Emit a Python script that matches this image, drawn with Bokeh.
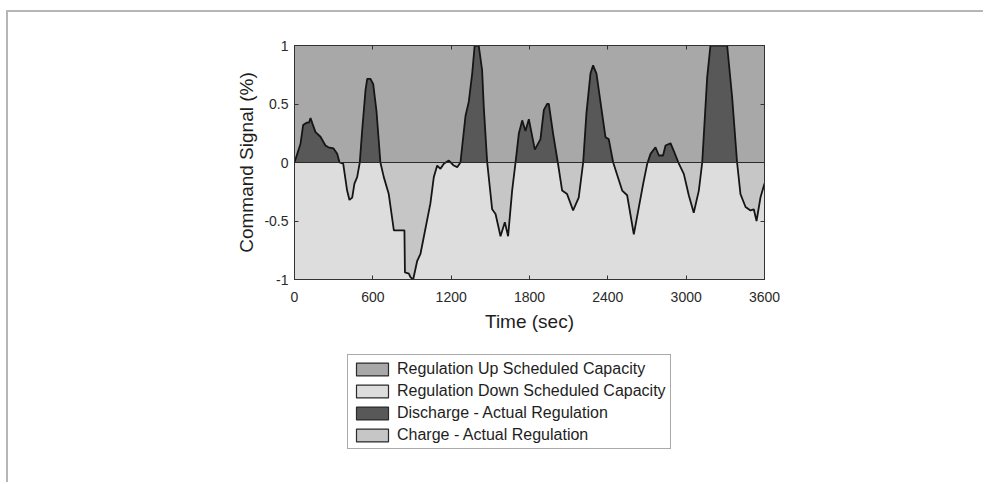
import numpy as np
from bokeh.plotting import figure
from bokeh.layouts import column
from bokeh.models import (ColumnDataSource, FixedTicker, Legend, LegendItem, Range1d, Span,
                          LinearAxis)
from bokeh.embed import file_html
from bokeh.resources import INLINE

# ---- data ----
time_s = [0, 46, 66, 92, 110, 123, 138, 161, 199, 237, 260, 299, 327, 345, 373, 403, 421, 442,
          459, 480, 500, 518, 544, 557, 582, 603, 628, 658, 684, 722, 761, 842, 846, 876, 888,
          909, 940, 965, 1041, 1067, 1093, 1118, 1144, 1182, 1220, 1246, 1271, 1310, 1335,
          1361, 1380, 1411, 1437, 1450, 1476, 1514, 1540, 1578, 1611, 1636, 1667, 1693, 1718,
          1744, 1769, 1795, 1841, 1884, 1910, 1935, 1948, 1981, 2017, 2050, 2088, 2134, 2177,
          2211, 2236, 2267, 2287, 2313, 2356, 2382, 2407, 2441, 2484, 2510, 2548, 2599, 2638,
          2671, 2702, 2727, 2765, 2791, 2823, 2842, 2880, 2905, 2944, 2982, 3020, 3058, 3097,
          3123, 3161, 3186, 3314, 3352, 3390, 3416, 3455, 3493, 3518, 3539, 3569, 3600]
signal = [0.0, 0.16, 0.32, 0.34, 0.34, 0.38, 0.33, 0.26, 0.22, 0.145, 0.13, 0.12, 0.074, 0.0,
          -0.01, -0.24, -0.32, -0.30, -0.18, -0.125, 0.0, 0.27, 0.62, 0.715, 0.715, 0.67, 0.44,
          0.0, -0.125, -0.27, -0.58, -0.58, -0.94, -0.95, -0.98, -1.0, -0.84, -0.78, -0.35,
          -0.125, -0.026, -0.054, -0.01, 0.017, -0.026, -0.04, 0.0, 0.40, 0.52, 0.76, 1.0, 1.0,
          0.79, 0.47, 0.0, -0.40, -0.44, -0.63, -0.51, -0.63, -0.24, 0.0, 0.245, 0.36, 0.27,
          0.37, 0.11, 0.20, 0.45, 0.50, 0.50, 0.245, 0.0, -0.24, -0.27, -0.41, -0.30, 0.0, 0.42,
          0.76, 0.83, 0.76, 0.42, 0.216, 0.20, 0.0, -0.15, -0.24, -0.28, -0.615, -0.38, -0.18,
          -0.01, 0.074, 0.13, 0.06, 0.06, 0.145, 0.165, 0.10, -0.01, -0.097, -0.28, -0.43,
          -0.24, 0.0, 0.73, 1.0, 1.0, 0.56, 0.0, -0.27, -0.38, -0.41, -0.40, -0.50, -0.30, -0.18]
x_ticks = [0, 600, 1200, 1800, 2400, 3000, 3600]
y_ticks = [-1, -0.5, 0, 0.5, 1]
y_tick_labels = ["-1", "-0.5", "0", "0.5", "1"]
legend_labels = ["Regulation Up Scheduled Capacity", "Regulation Down Scheduled Capacity",
                 "Discharge - Actual Regulation", "Charge - Actual Regulation"]

UP_C, DOWN_C, DIS_C, CHG_C = "#a8a8a8", "#dddddd", "#585858", "#c6c6c6"
TXT = "#2a2a2a"
FONT = "Liberation Sans"

# insert zero crossings so the filled areas split cleanly
t = np.array(time_s, float)
s = np.array(signal, float)
tt, ss = [t[0]], [s[0]]
for i in range(1, len(t)):
    if s[i - 1] * s[i] < 0:
        tz = t[i - 1] + (t[i] - t[i - 1]) * (-s[i - 1]) / (s[i] - s[i - 1])
        tt.append(tz); ss.append(0.0)
    tt.append(t[i]); ss.append(s[i])
tt = np.array(tt); ss = np.array(ss)
src = ColumnDataSource(dict(t=tt, s=ss, pos=np.maximum(ss, 0), neg=np.minimum(ss, 0), z=np.zeros_like(ss)))

x0, x1 = x_ticks[0], x_ticks[-1]
y0, y1 = y_ticks[0], y_ticks[-1]

W = 975
p = figure(width=W, height=330, output_backend="svg", toolbar_location=None,
           x_range=Range1d(x0, x1), y_range=Range1d(y0, y1),
           min_border_left=286, min_border_right=219, min_border_top=33, min_border_bottom=63,
           background_fill_color="white", border_fill_color="white")
p.grid.visible = False
p.outline_line_color = "#333333"
p.outline_line_width = 1

# background scheduled capacity areas
p.quad(left=[x0], right=[x1], bottom=[0], top=[y1], fill_color=UP_C, line_color=None)
p.quad(left=[x0], right=[x1], bottom=[y0], top=[0], fill_color=DOWN_C, line_color=None)
# actual regulation
p.varea(x="t", y1="z", y2="pos", source=src, fill_color=DIS_C)
p.varea(x="t", y1="neg", y2="z", source=src, fill_color=CHG_C)
p.add_layout(Span(location=0, dimension="width", line_color="#2a2a2a", line_width=1.2))
p.line(x="t", y="s", source=src, line_color="#151515", line_width=1.8)

# axes
def style_axis(ax):
    ax.major_tick_in = 4
    ax.major_tick_out = 0
    ax.minor_tick_line_color = None
    ax.axis_line_color = "#333333"
    ax.major_tick_line_color = "#333333"
    ax.major_label_text_font = FONT
    ax.major_label_text_font_size = "14px"
    ax.major_label_text_color = TXT
    ax.axis_label_text_font = FONT
    ax.axis_label_text_font_size = "19px"
    ax.axis_label_text_font_style = "normal"
    ax.axis_label_text_color = "#1e1e1e"

style_axis(p.xaxis[0]); style_axis(p.yaxis[0])
p.xaxis.ticker = FixedTicker(ticks=x_ticks)
p.yaxis.ticker = FixedTicker(ticks=y_ticks)
p.yaxis.major_label_overrides = {v: l for v, l in zip(y_ticks, y_tick_labels)}
p.xaxis.axis_label = "Time (sec)"
p.yaxis.axis_label = "Command Signal (%)"
p.xaxis.major_label_standoff = 12
p.yaxis.major_label_standoff = 6
p.xaxis.axis_label_standoff = 6
p.yaxis.axis_label_standoff = 4

# box-style tick marks on the top and right edges (no labels)
top_ax = LinearAxis(ticker=FixedTicker(ticks=x_ticks),
                    major_label_overrides={v: "" for v in x_ticks})
right_ax = LinearAxis(ticker=FixedTicker(ticks=y_ticks),
                      major_label_overrides={v: "" for v in y_ticks})
for ax in (top_ax, right_ax):
    style_axis(ax)
p.add_layout(top_ax, "above")
p.add_layout(right_ax, "right")

# legend in its own strip below the chart (swatch renderers draw nothing: NaN coordinates)
pl = figure(width=W, height=140, output_backend="svg", toolbar_location=None,
            x_range=Range1d(0, 1), y_range=Range1d(0, 1),
            x_axis_location=None, y_axis_location=None,
            min_border_left=0, min_border_right=0, min_border_top=0, min_border_bottom=0,
            background_fill_color="white", border_fill_color="white")
pl.grid.visible = False
pl.outline_line_color = None
swatch_colors = [UP_C, DOWN_C, DIS_C, CHG_C]
items = []
for lab, col in zip(legend_labels, swatch_colors):
    r = pl.quad(left=[np.nan], right=[np.nan], bottom=[np.nan], top=[np.nan],
                fill_color=col, line_color="#2a2a2a", line_width=1.2)
    items.append(LegendItem(label=lab, renderers=[r]))
leg = Legend(items=items, location=(53, 33), orientation="vertical",
             label_text_font=FONT, label_text_font_size="16px", label_text_color="#1e1e1e",
             glyph_width=40, glyph_height=16, label_height=19, label_standoff=5,
             spacing=3, padding=4, margin=0,
             border_line_color="#555555", border_line_width=1,
             background_fill_color="white", background_fill_alpha=1.0)
pl.add_layout(leg, "center")

lay = column(p, pl, spacing=0,
             styles={"margin-left": "6px", "margin-top": "10px",
                     "border-left": "2px solid #b6b6b6", "border-top": "2px solid #b6b6b6"})

open("out.html", "w").write(file_html(lay, INLINE))
